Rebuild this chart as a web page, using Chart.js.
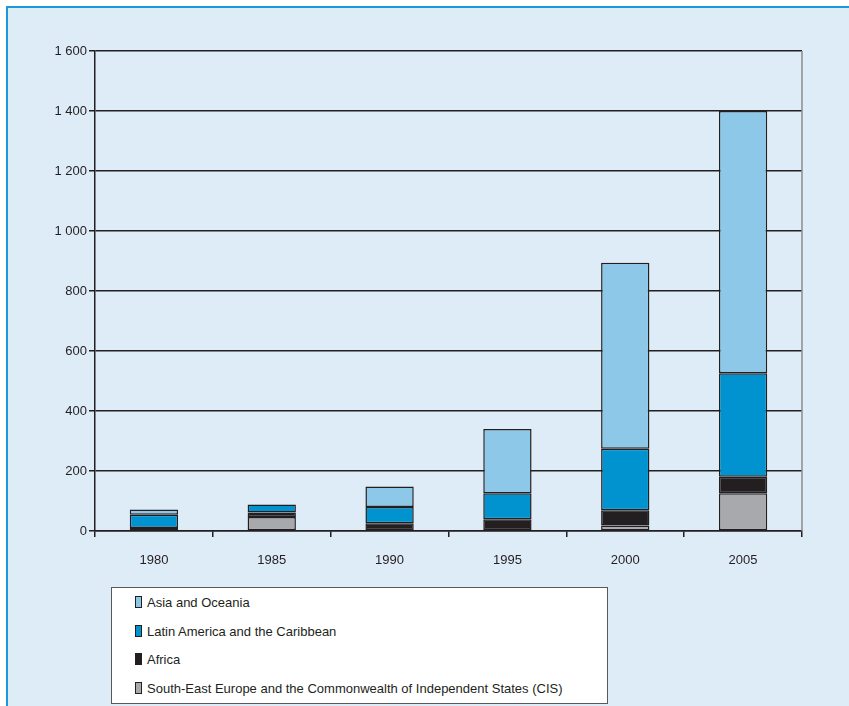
<!DOCTYPE html>
<html>
<head>
<meta charset="utf-8">
<script src="https://cdn.jsdelivr.net/npm/chart.js@4"></script>
<style>
  html, body { margin: 0; padding: 0; background: #ffffff; overflow: hidden; }
  .frame {
    position: absolute; left: 6px; top: 6px; width: 900px; height: 760px;
    background: #deecf8; border-top: 2px solid #1b9ad7; border-left: 2px solid #1b9ad7;
  }
  .wrap { position: absolute; left: 0; top: 0; width: 849px; height: 580px; }
  #legend {
    position: absolute; left: 111px; top: 587px; width: 495px; height: 115px;
    background: #ffffff; border: 1px solid #58595b;
    font-family: "Liberation Sans", Arial, sans-serif; font-size: 13px; color: #231f20;
  }
  #legend .item { position: absolute; left: 23px; height: 14px; line-height: 14px; white-space: nowrap; }
  #legend .swatch {
    display: inline-block; width: 5px; height: 10px; border: 1px solid #231f20;
    vertical-align: -1px; margin-right: 5px;
  }
</style>
</head>
<body>
<div class="frame"></div>
<div class="wrap"><canvas id="chart" width="849" height="580"></canvas></div>
<div id="legend"></div>
<script>
const years = ['1980', '1985', '1990', '1995', '2000', '2005'];
const cis = [0, 47, 0, 0, 18, 126];
const africa = [10, 15, 26, 39, 51, 55];
const latinAmerica = [44, 26, 54, 87, 205, 345];
const asiaOceania = [18, 0, 68, 214, 620, 874];
const yTicks = [0, 200, 400, 600, 800, 1000, 1200, 1400, 1600];

const INK = '#231f20';
const AXIS_FONT = { family: '"Liberation Sans Narrow", "Arial Narrow", "Liberation Sans", sans-serif', size: 13 };

const series = [
  { label: 'South-East Europe and the Commonwealth of Independent States (CIS)', data: cis, color: '#a7a9ac' },
  { label: 'Africa', data: africa, color: '#231f20' },
  { label: 'Latin America and the Caribbean', data: latinAmerica, color: '#0093d0' },
  { label: 'Asia and Oceania', data: asiaOceania, color: '#8dc8e8' },
];

// thin grey line closing the plot on the right
const rightEdge = {
  id: 'rightEdge',
  afterDraw(chart) {
    const { ctx, chartArea: a } = chart;
    ctx.save();
    ctx.strokeStyle = '#8a8c8f';
    ctx.lineWidth = 1.5;
    ctx.beginPath();
    ctx.moveTo(a.right, a.top);
    ctx.lineTo(a.right, a.bottom);
    ctx.stroke();
    ctx.restore();
  }
};

const chart = new Chart(document.getElementById('chart'), {
  type: 'bar',
  data: {
    labels: years,
    datasets: series.map(s => ({
      label: s.label,
      data: s.data,
      backgroundColor: s.color,
      borderColor: INK,
      borderWidth: 1.5,
      borderSkipped: false,
      barPercentage: 0.41,
      categoryPercentage: 1,
    }))
  },
  options: {
    responsive: false,
    animation: false,
    layout: { padding: { top: 51, right: 47, left: 0, bottom: 0 } },
    plugins: { legend: { display: false }, tooltip: { enabled: false } },
    scales: {
      x: {
        stacked: true,
        afterFit: s => { s.height = 49; },
        border: { color: INK, width: 1.5 },
        grid: { drawOnChartArea: false, drawTicks: true, tickLength: 6, color: INK, lineWidth: 1.5 },
        ticks: { color: INK, font: AXIS_FONT, padding: 16 }
      },
      y: {
        stacked: true,
        min: 0, max: 1600,
        afterFit: s => { s.width = 95; },
        afterBuildTicks: s => { s.ticks = yTicks.map(v => ({ value: v })); },
        border: { color: INK, width: 1.5 },
        grid: { color: INK, lineWidth: 1.5, tickLength: 6 },
        ticks: {
          color: INK, font: AXIS_FONT, padding: 2,
          callback: v => v >= 1000 ? Math.floor(v / 1000) + ' ' + String(v % 1000).padStart(3, '0') : String(v)
        }
      }
    }
  },
  plugins: [rightEdge]
});

// legend box, top entry is the top of the stack
const legend = document.getElementById('legend');
const rowTops = [8, 37, 65, 94];
chart.data.datasets.slice().reverse().forEach((ds, i) => {
  const row = document.createElement('div');
  row.className = 'item';
  row.style.top = rowTops[i] + 'px';
  row.innerHTML = `<span class="swatch" style="background:${ds.backgroundColor}"></span>${ds.label}`;
  legend.appendChild(row);
});
</script>
</body>
</html>
